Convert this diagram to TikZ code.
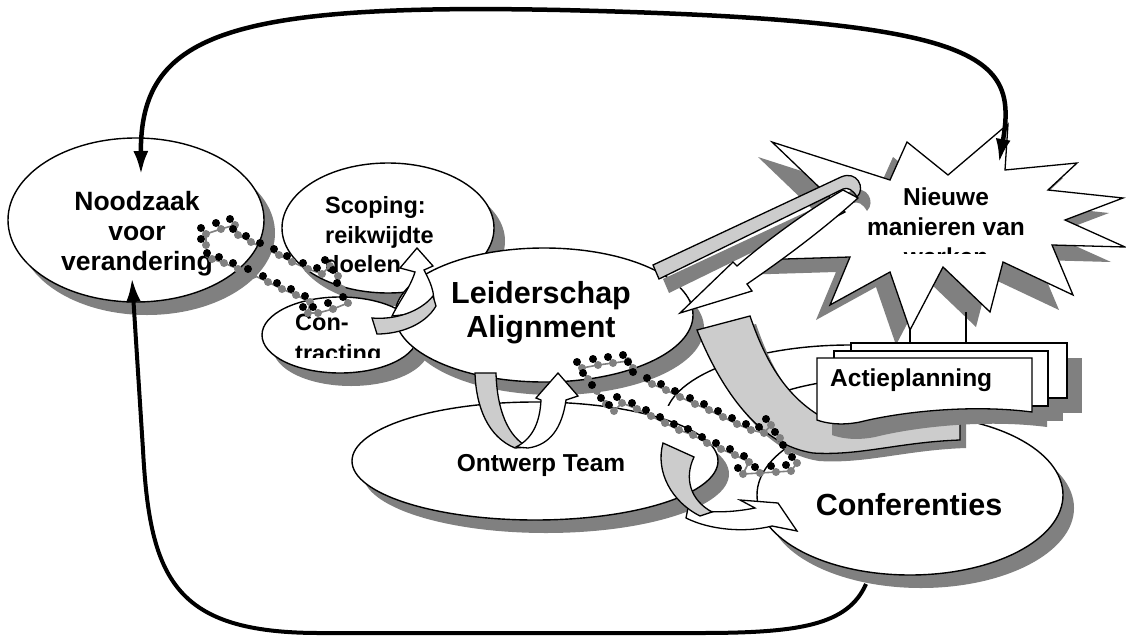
\documentclass[tikz,border=0pt]{standalone}
\usepackage{fontspec}
\setmainfont{Liberation Sans}
\usetikzlibrary{shapes.geometric,shadows,arrows.meta}
\definecolor{shd}{RGB}{128,128,128}
\definecolor{rib}{RGB}{204,204,204}
\newcommand\ftS{\fontsize{23.5}{28}\selectfont\bfseries}
\newcommand\ftM{\fontsize{24.5}{29}\selectfont\bfseries}
\newcommand\ftN{\fontsize{26.5}{30}\selectfont\bfseries}
\newcommand\ftL{\fontsize{30.5}{34}\selectfont\bfseries}
\newcommand\bigrib{(697,330) -- (750,316) .. controls (765,360) and (785,395) .. (820,416) -- (960,416) -- (960,440) .. controls (900,442) and (860,456) .. (813,453) .. controls (760,445) and (722,392) .. (697,330) -- cycle}
\newcommand\starpath{(772,142) -- (890,180) -- (907,142) -- (948,175) -- (1008,124) -- (1005,170) -- (1077,163) -- (1048,190) -- (1123,198) -- (1065,220) -- (1125,247) -- (1052,245) -- (1073,295) -- (1003,262) -- (990,312) -- (943,267) -- (910,330) -- (890,272) -- (830,305) -- (850,257) -- (752,260) -- (845,212) -- cycle}
\newcommand\loopgray{(653,265) -- (841,177) .. controls (857,170) and (866,188) .. (857,197) .. controls (853,190) and (848,187) .. (843,189) -- (659,279) -- cycle}
\newcommand\loopwhite{(843,190) .. controls (805,212) and (765,242) .. (737,266) -- (733,262) -- (680,313) -- (752,291) -- (747,284) .. controls (785,258) and (825,228) .. (858,198) -- cycle}
\newcommand\dotsA{201/239,201/228,216/223,230/219,233/229,246/236,260/243,274/249,287/256,303/263,317/268,325/260,333/270,337/283,343/297,328/303,313/307,303/307,305/296,291/289,277/283,263/276,248/269,233/263,219/257,207/253}
\newcommand\dotsB{577/362,593/359,608/357,623/355,628/362,633/372,647/378,661/384,675/391,690/398,704/404,718/411,732/418,746/424,759/427,766/419,775/432,783/445,792/457,786/465,771/466,755/467,738/468,744/456,730/449,716/443,702/437,688/429,674/424,660/417,646/410,632/403,617/397,609/405,601/398,592/385,583/373}
\begin{document}
\begin{tikzpicture}[x=1pt,y=-1pt,
  ell/.style={shape=ellipse, draw=black, line width=1.4pt, fill=white, inner sep=0pt},
  eshadow/.style={drop shadow={shadow xshift=11pt, shadow yshift=-13pt, fill=shd, opacity=1}},
  outl/.style={draw=black, line width=1.3pt, line join=miter},
  bigarrow/.style={line width=4.5pt, draw=black},
  txt/.style={inner sep=0pt, anchor=base, text=black},
  txtl/.style={inner sep=0pt, anchor=base west, text=black}]
\useasboundingbox (0,0) rectangle (1126,637);
\fill[white] (0,0) rectangle (1126,637);

% back ellipses of the conference stack (only their upper rims show)
\begin{scope}
\clip (640,330) rectangle (1100,405);
\node[ell, minimum width=370pt, minimum height=150pt] (confB) at (850,420) {};
\end{scope}
\begin{scope}
\clip (640,360) rectangle (1100,395);
\node[ell, minimum width=330pt, minimum height=144pt] (confC) at (880,450) {};
\end{scope}
\node[ell, eshadow, minimum width=306pt, minimum height=160pt] (conf) at (910,495) {};
\node[ell, eshadow, minimum width=366pt, minimum height=118pt] (ontw) at (535,461) {};
\node[ell, eshadow, minimum width=256pt, minimum height=164pt] (nood) at (136,220) {};
\node[ell, eshadow, minimum width=212pt, minimum height=130pt] (scop) at (388,228) {};
\node[ell, eshadow, minimum width=156pt, minimum height=76pt] (contr) at (340,335) {};
\node[ell, eshadow, minimum width=298pt, minimum height=134pt] (leid) at (544,315) {};

% bottom return arrow
\coordinate (bstart) at (866,584);
\draw[bigarrow, line width=4pt, -{Latex[length=24pt,width=15pt]}] (bstart) .. controls (848,625) and (800,633) .. (700,633) -- (320,633) .. controls (175,633) and (150,580) .. (143,450) -- (132,278);

% star
\fill[shd, shift={(-14,15)}] \starpath;
\filldraw[outl, fill=white] \starpath;
\draw[line width=1.3pt] (910,328) -- (910,343);
\draw[line width=1.3pt] (966,312) -- (966,343);

% big ribbon
\fill[shd, shift={(6,8)}] \bigrib;
\filldraw[outl, fill=rib] \bigrib;

% action planning cards
\fill[shd] (866,358) rectangle (1082,413);
\fill[shd] (849,366) rectangle (1063,421);
\fill[shd, shift={(15,15)}] (817,358) -- (1032,358) -- (1032,412) .. controls (970,404) and (900,412) .. (860,422) .. controls (840,426) and (825,423) .. (817,420) -- cycle;
\filldraw[outl, fill=white] (851,343) rectangle (1067,398);
\filldraw[outl, fill=white] (834,351) rectangle (1048,406);
\filldraw[outl, fill=white] (817,358) -- (1032,358) -- (1032,412) .. controls (970,404) and (900,412) .. (860,422) .. controls (840,426) and (825,423) .. (817,420) -- cycle;

% loop ribbon
\fill[shd, shift={(10,14)}] \loopgray;
\filldraw[outl, fill=white] \loopwhite;
\filldraw[outl, fill=rib] \loopgray;

% texts
\node[txt, font=\ftN] (t1a) at (137,210) {Noodzaak};
\node[txt, font=\ftN] (t1b) at (137,240) {voor};
\node[txt, font=\ftN] (t1c) at (137,270) {verandering};
\node[txtl, font=\ftS] (t2a) at (325,213) {Scoping:};
\node[txtl, font=\ftS] (t2b) at (325,243) {reikwijdte};
\node[txtl, font=\ftS] (t2c) at (325,272) {doelen};
\begin{scope}
\clip (280,300) rectangle (420,357);
\node[txtl, font=\ftS] (t3a) at (295,330) {Con-};
\node[txtl, font=\ftS] (t3b) at (295,361) {tracting};
\end{scope}
\node[txt, font=\ftL] (t4a) at (541,303.5) {Leiderschap};
\node[txt, font=\ftL] (t4b) at (541,337) {Alignment};
\node[txt, font=\ftM] (t5) at (541,471) {Ontwerp Team};
\node[txtl, font=\ftM] (t6) at (830,386) {Actieplanning};
\node[txt, font=\ftL] (t7) at (909,515) {Conferenties};
\begin{scope}
\clip (850,175) rectangle (1045,253);
\node[txt, font=\ftM] (t8a) at (946,205) {Nieuwe};
\node[txt, font=\ftM] (t8b) at (946,235) {manieren van};
\node[txt, font=\ftM] (t8c) at (946,265) {werken};
\end{scope}

% small curved arrows
\filldraw[outl, fill=white] (392,316) .. controls (400,300) and (410,288) .. (415,272) -- (400,268) -- (417,248) -- (433,266) -- (424,270) .. controls (432,285) and (438,300) .. (430,312) -- cycle;
\filldraw[outl, fill=rib] (372,318) .. controls (395,320) and (420,312) .. (433,296) -- (436,306) .. controls (425,325) and (400,334) .. (377,334) -- cycle;

\filldraw[outl, fill=rib] (475,373) -- (496,373) .. controls (497,410) and (508,437) .. (528,447) -- (515,448) .. controls (488,437) and (476,407) .. (475,373) -- cycle;
\filldraw[outl, fill=white] (516,447) .. controls (534,438) and (540,420) .. (541,400) -- (536,398) -- (558,373) -- (578,396) -- (566,400) .. controls (562,428) and (550,445) .. (528,448) -- cycle;

\filldraw[outl, fill=white] (688,508) .. controls (710,514) and (735,512) .. (755,508) -- (740,500) -- (778,503) -- (797,531) -- (772,526) .. controls (745,533) and (710,530) .. (686,518) -- cycle;
\filldraw[outl, fill=rib] (663,443) -- (694,457) .. controls (684,478) and (690,500) .. (712,512) -- (700,516) .. controls (672,502) and (655,472) .. (663,443) -- cycle;

% dotted routes
\begin{scope}[shift={(5,6)}]
\draw[shd, line width=1.6pt] plot coordinates {(201,239) (201,228) (216,223) (230,219) (233,229) (246,236) (260,243) (274,249) (287,256) (303,263) (317,268) (325,260) (333,270) (337,283) (343,297) (328,303) (313,307) (303,307) (305,296) (291,289) (277,283) (263,276) (248,269) (233,263) (219,257) (207,253)};
\foreach \px/\py in \dotsA {\fill[shd] (\px,\py) circle (4);}
\draw[shd, line width=1.6pt] plot coordinates {(577,362) (593,359) (608,357) (623,355) (628,362) (633,372) (647,378) (661,384) (675,391) (690,398) (704,404) (718,411) (732,418) (746,424) (759,427) (766,419) (775,432) (783,445) (792,457) (786,465) (771,466) (755,467) (738,468) (744,456) (730,449) (716,443) (702,437) (688,429) (674,424) (660,417) (646,410) (632,403) (617,397) (609,405) (601,398) (592,385) (583,373) (577,362)};
\foreach \px/\py in \dotsB {\fill[shd] (\px,\py) circle (4);}
\end{scope}
\foreach \px/\py in \dotsA {\fill[black] (\px,\py) circle (4);}
\foreach \px/\py in \dotsB {\fill[black] (\px,\py) circle (4);}

% top arrow
\coordinate (tstart) at (999,163);
\coordinate (tend) at (141,175);
\draw[bigarrow, {Latex[length=24pt,width=15pt]}-{Latex[length=24pt,width=15pt]}] (tstart) .. controls (1018,55) and (985,20) .. (560,10) .. controls (225,3) and (140,35) .. (tend);
\end{tikzpicture}
\end{document}
